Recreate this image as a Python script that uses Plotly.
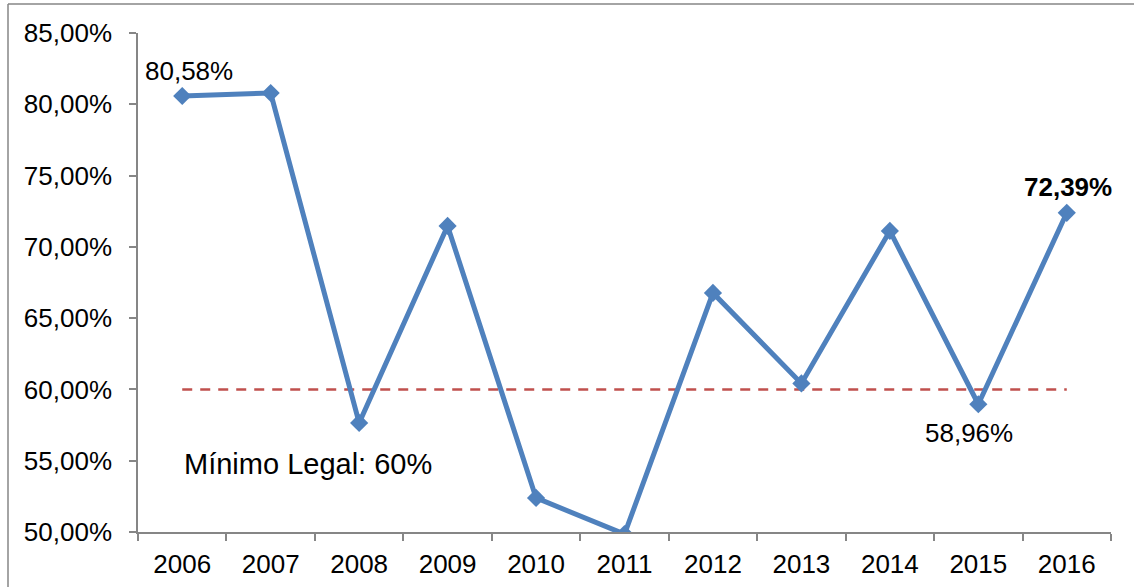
import plotly.graph_objects as go

years = ["2006", "2007", "2008", "2009", "2010", "2011", "2012", "2013", "2014", "2015", "2016"]
values = [80.58, 80.79, 57.65, 71.47, 52.39, 49.85, 66.77, 60.42, 71.12, 58.96, 72.39]
minimum_legal = 60.0
y_ticks = [50, 55, 60, 65, 70, 75, 80, 85]
label_years = ["2006", "2015", "2016"]

BLUE = "#4F81BD"
RED = "#C0504D"
AXIS = "#868686"
FONT = "Liberation Sans"
FS = 26

W, H = 1134, 587
L, R, T, B = 138, 23, 33, 55


def fmt(v):
    return f"{v:.2f}".replace(".", ",") + "%"


fig = go.Figure()

fig.add_trace(go.Scatter(
    x=[years[0], years[-1]], y=[minimum_legal, minimum_legal],
    mode="lines", line=dict(color=RED, width=2.5, dash="10px,8px"),
    hoverinfo="skip", showlegend=False,
))

fig.add_trace(go.Scatter(
    x=years, y=values, mode="lines+markers",
    line=dict(color=BLUE, width=5),
    marker=dict(symbol="diamond", size=14, color=BLUE),
    showlegend=False, cliponaxis=True, hoverinfo="skip",
))

# data labels (pixel offsets from their points)
offsets = {"2006": (7, 25, False), "2015": (-9, -29, False), "2016": (1, 26, True)}
for yr in label_years:
    i = years.index(yr)
    dx, dy, bold = offsets[yr]
    txt = fmt(values[i])
    if bold:
        txt = f"<b>{txt}</b>"
    fig.add_annotation(x=i, y=values[i], xref="x", yref="y", text=txt, showarrow=False,
                       xshift=dx, yshift=dy,
                       font=dict(size=FS, color="black", family=FONT))

fig.add_annotation(x=0, y=minimum_legal, xref="x", yref="y",
                   text=f"Mínimo Legal: {int(minimum_legal)}%", showarrow=False,
                   xanchor="left", xshift=0, yshift=-75,
                   font=dict(size=29, color="black", family=FONT))

# outer frame (top and left edges)
pw = W - L - R
ph = H - T - B
fig.add_shape(type="line", xref="paper", yref="paper",
              x0=(8 - L) / pw, x1=(W + 5 - L) / pw,
              y0=(H - B - 4) / ph, y1=(H - B - 4) / ph,
              line=dict(color=AXIS, width=1.5))
fig.add_shape(type="line", xref="paper", yref="paper",
              x0=(8 - L) / pw, x1=(8 - L) / pw,
              y0=(H - B - 4) / ph, y1=-(B + 5) / ph,
              line=dict(color=AXIS, width=1.5))

fig.update_layout(
    width=W, height=H,
    margin=dict(l=L, r=R, t=T, b=B, autoexpand=False),
    paper_bgcolor="white", plot_bgcolor="white",
    font=dict(family=FONT, size=FS, color="black"),
    hovermode=False,
    xaxis=dict(
        type="category", categoryorder="array", categoryarray=years,
        range=[-0.5, len(years) - 0.5], automargin=False,
        tickson="boundaries", ticks="outside", ticklen=7, tickcolor=AXIS, tickwidth=1.5,
        showline=True, linecolor=AXIS, linewidth=1.5, showgrid=False, zeroline=False,
        tickfont=dict(size=FS, family=FONT, color="black"),
        ticklabelstandoff=8,
    ),
    yaxis=dict(
        range=[50, 85], tickmode="array", tickvals=y_ticks, automargin=False,
        ticktext=[fmt(v) for v in y_ticks],
        ticks="outside", ticklen=7, tickcolor=AXIS, tickwidth=1.5,
        showline=True, linecolor=AXIS, linewidth=1.5, showgrid=False, zeroline=False,
        tickfont=dict(size=FS, family=FONT, color="black"),
        ticklabelstandoff=12,
    ),
)

fig.write_html("out.html", config={"displayModeBar": False},
               post_script="document.body.style.margin='0';document.body.style.overflow='hidden';")
